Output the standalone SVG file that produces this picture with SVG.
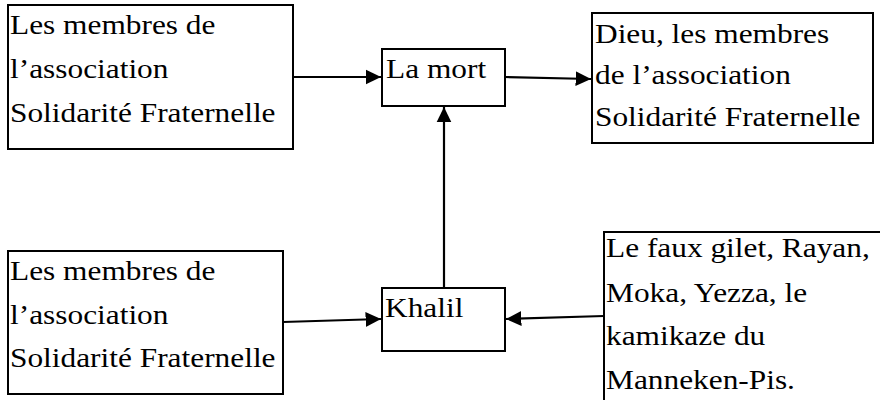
<svg xmlns="http://www.w3.org/2000/svg" width="880" height="400" viewBox="0 0 880 400">
<style>
.box{fill:#fff;stroke:#000;stroke-width:2}
.t{font-family:"Liberation Serif","Times New Roman",serif;font-size:28px;fill:#000}
.c{stroke:#000;stroke-width:2.2;fill:none}
</style>
<defs>
<marker id="ah" markerWidth="8" markerHeight="8" refX="7" refY="4" orient="auto" markerUnits="strokeWidth">
<path d="M0,0.6 L7,4 L0,7.4 Z" fill="#000"/>
</marker>
</defs>
<rect width="880" height="400" fill="#fff"/>
<g id="n1">
<rect class="box" x="8" y="5" width="285" height="144"/>
<text class="t" transform="translate(10,34) scale(1.12,1)">Les membres de</text>
<text class="t" transform="translate(10,78) scale(1.12,1)">l’association</text>
<text class="t" transform="translate(10,122) scale(1.12,1)">Solidarité Fraternelle</text>
</g>
<g id="n2">
<rect class="box" x="382" y="49" width="123" height="57"/>
<text class="t" transform="translate(386,78) scale(1.12,1)">La mort</text>
</g>
<g id="n3">
<rect class="box" x="592" y="13" width="281" height="130"/>
<text class="t" transform="translate(595,43) scale(1.12,1)">Dieu, les membres</text>
<text class="t" transform="translate(595,84) scale(1.12,1)">de l’association</text>
<text class="t" transform="translate(595,126) scale(1.12,1)">Solidarité Fraternelle</text>
</g>
<g id="n4">
<rect class="box" x="8" y="251" width="275" height="143"/>
<text class="t" transform="translate(10,280) scale(1.12,1)">Les membres de</text>
<text class="t" transform="translate(10,324) scale(1.12,1)">l’association</text>
<text class="t" transform="translate(10,367) scale(1.12,1)">Solidarité Fraternelle</text>
</g>
<g id="n5">
<rect class="box" x="382" y="288" width="123" height="63"/>
<text class="t" transform="translate(385,317) scale(1.12,1)">Khalil</text>
</g>
<g id="n6">
<rect class="box" x="604" y="232" width="290" height="180"/>
<text class="t" transform="translate(606,257) scale(1.12,1)">Le faux gilet, Rayan,</text>
<text class="t" transform="translate(606,302) scale(1.12,1)">Moka, Yezza, le</text>
<text class="t" transform="translate(606,345) scale(1.12,1)">kamikaze du</text>
<text class="t" transform="translate(606,389) scale(1.12,1)">Manneken-Pis.</text>
</g>
<g id="connectors">
<line class="c" x1="293" y1="77" x2="381" y2="77" marker-end="url(#ah)"/>
<line class="c" x1="505" y1="77" x2="591" y2="79" marker-end="url(#ah)"/>
<line class="c" x1="444" y1="288" x2="444" y2="107" marker-end="url(#ah)"/>
<line class="c" x1="283" y1="322" x2="381" y2="319" marker-end="url(#ah)"/>
<line class="c" x1="604" y1="316" x2="506" y2="319" marker-end="url(#ah)"/>
</g>
</svg>
